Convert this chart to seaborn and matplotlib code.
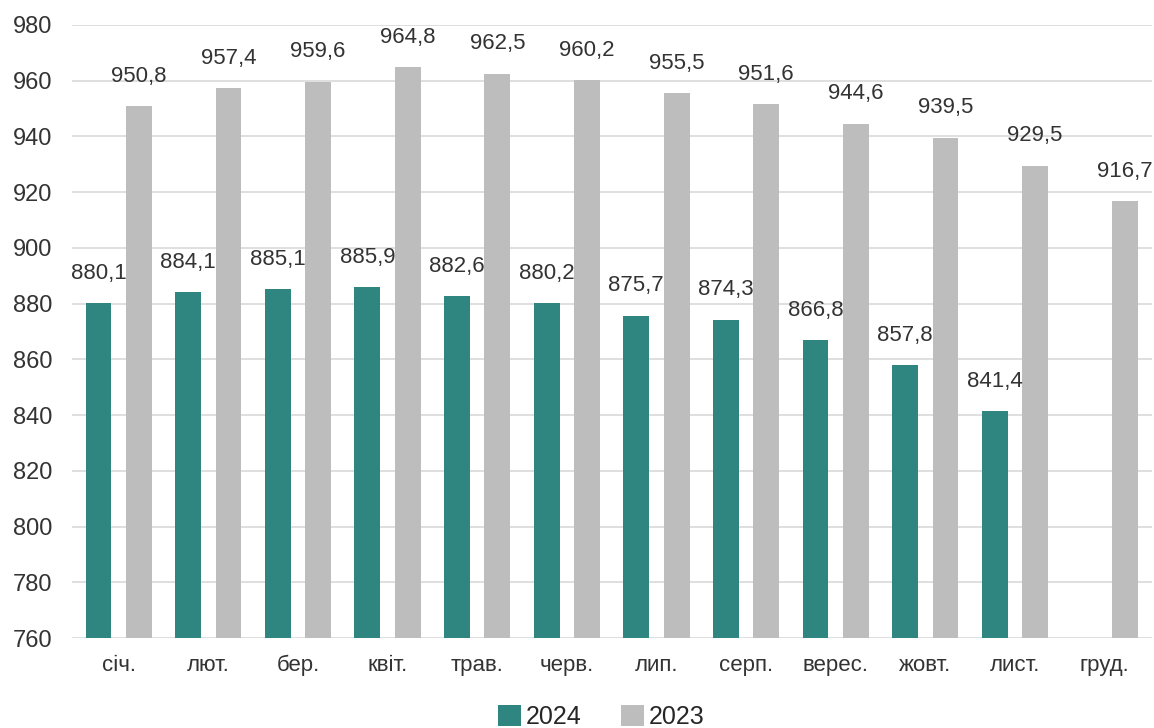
import matplotlib
matplotlib.use("Agg")
import matplotlib.pyplot as plt
import seaborn as sns
import pandas as pd
import numpy as np

months = ["січ.", "лют.", "бер.", "квіт.", "трав.", "черв.",
          "лип.", "серп.", "верес.", "жовт.", "лист.", "груд."]
values_2024 = [880.1, 884.1, 885.1, 885.9, 882.6, 880.2,
               875.7, 874.3, 866.8, 857.8, 841.4, np.nan]
values_2023 = [950.8, 957.4, 959.6, 964.8, 962.5, 960.2,
               955.5, 951.6, 944.6, 939.5, 929.5, 916.7]
years = ["2024", "2023"]
colors = {"2024": "#2f8680", "2023": "#bdbdbd"}

df = pd.DataFrame({
    "month": months * 2,
    "year": ["2024"] * len(months) + ["2023"] * len(months),
    "value": values_2024 + values_2023,
})

sns.set_theme(style="white")
plt.rcParams["font.family"] = ["Liberation Sans", "DejaVu Sans"]

fig = plt.figure(figsize=(11.54, 7.28), dpi=100)
ax = fig.add_axes([0.0624, 0.1236, 0.936, 0.8421])

sns.barplot(data=df, x="month", y="value", hue="year", hue_order=years,
            palette=colors, order=months, width=0.9, gap=0.36,
            saturation=1, linewidth=0, ax=ax, legend=True)

ax.set_ylim(760, 980)
ax.set_xlim(-0.52, 11.53)
ax.set_yticks(np.arange(760, 981, 20))
ax.yaxis.grid(True, color="#d9d9d9", linewidth=1.2)
ax.set_axisbelow(True)
for s in ax.spines.values():
    s.set_visible(False)
ax.set_xlabel("")
ax.set_ylabel("")
ax.tick_params(axis="y", labelsize=17, colors="#333333", length=0, pad=14)
ax.tick_params(axis="x", labelsize=16, colors="#333333", length=0, pad=12)

for cont in ax.containers:
    labels = ["" if np.isnan(v) else f"{v:.1f}".replace(".", ",")
              for v in cont.datavalues]
    ax.bar_label(cont, labels=labels, padding=14, fontsize=16, color="#333333")

handles, lbls = ax.get_legend_handles_labels()
ax.legend(handles, lbls, loc="lower center", bbox_to_anchor=(0.49, -0.185),
          ncol=2, frameon=False, fontsize=18, handlelength=0.9,
          handleheight=0.9, handletextpad=0.2, columnspacing=1.6)

fig.savefig("out.png", dpi=100)
